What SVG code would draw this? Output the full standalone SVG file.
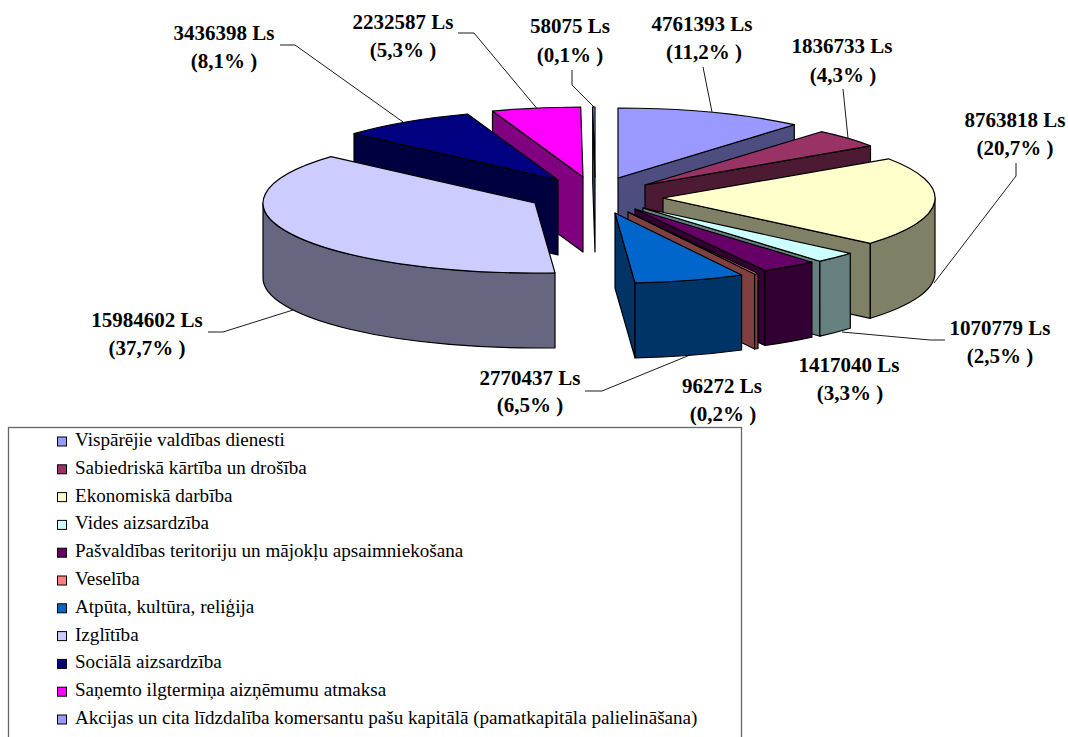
<svg xmlns="http://www.w3.org/2000/svg" width="1068" height="737" viewBox="0 0 1068 737">
<style>
.s{stroke:#000;stroke-width:1.2;stroke-linejoin:round}
.lead{fill:none;stroke:#000;stroke-width:0.9}
.lbl{font-family:'Liberation Serif','Times New Roman','DejaVu Serif',serif;font-weight:bold;font-size:21px;text-anchor:middle;fill:#000}
.lg{font-family:'Liberation Serif','Times New Roman','DejaVu Serif',serif;font-size:19.1px;fill:#000}
.sw{stroke:#000;stroke-width:1}
</style>
<rect width="1068" height="737" fill="#fff"/>

<g id="slice-akcijas">
<path class="s" fill="#4D4D80" d="M595,177 L592.7,107 L592.7,182 L595,252 Z"/>
<path class="s" fill="#9999FF" d="M595,177 L592.7,107 L595,107 Z"/>
</g>
<g id="slice-sanemto">
<path class="s" fill="#800080" d="M583,177 L492.5,111 L492.5,186 L583,252 Z"/>
<path class="s" fill="#FF00FF" d="M583,177 L492.5,111 A272,70 0 0 1 580.7,107 Z"/>
</g>
<g id="slice-sociala">
<path class="s" fill="#000040" d="M558,180 L354,133.7 L354,208.7 L558,255 Z"/>
<path class="s" fill="#000080" d="M558,180 L354,133.7 A272,70 0 0 1 467.5,114 Z"/>
</g>
<g id="slice-izglitiba">
<path class="s" fill="#666680" d="M555,272.8 A272,70 0 0 1 263,203 L263,278 A272,70 0 0 0 555,347.8 Z"/>
<path class="s" fill="#CCCCFF" d="M535,203 L555,272.8 A272,70 0 0 1 331,156.7 Z"/>
</g>
<g id="slice-visparejie">
<path class="s" fill="#4D4D80" d="M618,178 L794.3,124.7 L794.3,199.7 L618,253 Z"/>
<path class="s" fill="#9999FF" d="M618,178 L618,108 A272,70 0 0 1 794.3,124.7 Z"/>
</g>
<g id="slice-sabiedriska">
<path class="s" fill="#4D1A33" d="M645,185 L870.5,145.8 L870.5,220.8 L645,260 Z"/>
<path class="s" fill="#993366" d="M645,185 L821.3,131.7 A272,70 0 0 1 870.5,145.8 Z"/>
</g>
<g id="slice-ekonomiska">
<path class="s" fill="#808066" d="M663,198 L870.3,243.3 L870.3,318.3 L663,273 Z"/>
<path class="s" fill="#808066" d="M935,198 A272,70 0 0 1 870.3,243.3 L870.3,318.3 A272,70 0 0 0 935,273 Z"/>
<path class="s" fill="#FFFFCC" d="M663,198 L888.5,158.8 A272,70 0 0 1 870.3,243.3 Z"/>
</g>
<g id="slice-vides">
<path class="s" fill="#668080" d="M643,208 L819.9,261.2 L819.9,336.2 L643,283 Z"/>
<path class="s" fill="#668080" d="M850.3,253.3 A272,70 0 0 1 819.9,261.2 L819.9,336.2 A272,70 0 0 0 850.3,328.3 Z"/>
<path class="s" fill="#CCFFFF" d="M643,208 L850.3,253.3 A272,70 0 0 1 819.9,261.2 Z"/>
</g>
<g id="slice-pasvaldibas">
<path class="s" fill="#330033" d="M635,209 L765,270.5 L765,345.5 L635,284 Z"/>
<path class="s" fill="#330033" d="M811.9,262.2 A272,70 0 0 1 765,270.5 L765,345.5 A272,70 0 0 0 811.9,337.2 Z"/>
<path class="s" fill="#660066" d="M635,209 L811.9,262.2 A272,70 0 0 1 765,270.5 Z"/>
</g>
<g id="slice-veseliba">
<path class="s" fill="#804040" d="M628,212 L754.6,274 L754.6,349 L628,287 Z"/>
<path class="s" fill="#804040" d="M758,273.5 L754.6,274 L754.6,349 L758,348.5 Z"/>
<path class="s" fill="#FF8080" d="M628,212 L758,273.5 L754.6,274 Z"/>
</g>
<g id="slice-atputa">
<path class="s" fill="#003366" d="M615,213 L635,282.8 L635,357.8 L615,288 Z"/>
<path class="s" fill="#003366" d="M741.6,275 A272,70 0 0 1 635,282.8 L635,357.8 A272,70 0 0 0 741.6,350 Z"/>
<path class="s" fill="#0066CC" d="M615,213 L741.6,275 A272,70 0 0 1 635,282.8 Z"/>
</g>

<g id="connectors">
<path class="lead" d="M280,45 L295,45 L403,122"/>
<path class="lead" d="M458,33 L474,33 L537,108.5"/>
<path class="lead" d="M572,70 L572,85 L594,107"/>
<path class="lead" d="M703,67 L712,112"/>
<path class="lead" d="M843,89 L848,138"/>
<path class="lead" d="M1016,163 L1016,176 L934,283"/>
<path class="lead" d="M945,340 L930,340 L842,332"/>
<path class="lead" d="M585,391 L602,391 L690,355"/>
<path class="lead" d="M208,332 L223,332 L293,310"/>
</g>

<g id="labels">
<g id="label-sociala"><text class="lbl" x="224" y="40">3436398 Ls</text><text class="lbl" x="224" y="68">(8,1% )</text></g>
<g id="label-sanemto"><text class="lbl" x="403" y="29">2232587 Ls</text><text class="lbl" x="403" y="57">(5,3% )</text></g>
<g id="label-akcijas"><text class="lbl" x="570" y="33">58075 Ls</text><text class="lbl" x="570" y="62">(0,1% )</text></g>
<g id="label-visparejie"><text class="lbl" x="702" y="31">4761393 Ls</text><text class="lbl" x="704" y="59">(11,2% )</text></g>
<g id="label-sabiedriska"><text class="lbl" x="842" y="53">1836733 Ls</text><text class="lbl" x="843" y="82">(4,3% )</text></g>
<g id="label-ekonomiska"><text class="lbl" x="1015" y="127">8763818 Ls</text><text class="lbl" x="1015" y="155">(20,7% )</text></g>
<g id="label-vides"><text class="lbl" x="1000" y="335">1070779 Ls</text><text class="lbl" x="1000" y="363">(2,5% )</text></g>
<g id="label-pasvaldibas"><text class="lbl" x="849" y="372">1417040 Ls</text><text class="lbl" x="850" y="400">(3,3% )</text></g>
<g id="label-veseliba"><text class="lbl" x="722" y="393">96272 Ls</text><text class="lbl" x="723" y="421">(0,2% )</text></g>
<g id="label-atputa"><text class="lbl" x="530" y="385">2770437 Ls</text><text class="lbl" x="530" y="412">(6,5% )</text></g>
<g id="label-izglitiba"><text class="lbl" x="147" y="327">15984602 Ls</text><text class="lbl" x="147" y="355">(37,7% )</text></g>
</g>

<g id="legend">
<rect x="8.5" y="427.5" width="733" height="330" fill="none" stroke="#666" stroke-width="1.3"/>
<rect class="sw" x="57.5" y="437" width="9" height="9" fill="#9999FF"/><text class="lg" x="75" y="446">Vispārējie valdības dienesti</text>
<rect class="sw" x="57.5" y="464.8" width="9" height="9" fill="#993366"/><text class="lg" x="75" y="473.8">Sabiedriskā kārtība un drošība</text>
<rect class="sw" x="57.5" y="492.6" width="9" height="9" fill="#FFFFCC"/><text class="lg" x="75" y="501.6">Ekonomiskā darbība</text>
<rect class="sw" x="57.5" y="520.4" width="9" height="9" fill="#CCFFFF"/><text class="lg" x="75" y="529.4">Vides aizsardzība</text>
<rect class="sw" x="57.5" y="548.2" width="9" height="9" fill="#660066"/><text class="lg" x="75" y="557.2">Pašvaldības teritoriju un mājokļu apsaimniekošana</text>
<rect class="sw" x="57.5" y="576" width="9" height="9" fill="#FF8080"/><text class="lg" x="75" y="585">Veselība</text>
<rect class="sw" x="57.5" y="603.8" width="9" height="9" fill="#0066CC"/><text class="lg" x="75" y="612.8">Atpūta, kultūra, reliģija</text>
<rect class="sw" x="57.5" y="631.6" width="9" height="9" fill="#CCCCFF"/><text class="lg" x="75" y="640.6">Izglītība</text>
<rect class="sw" x="57.5" y="659.4" width="9" height="9" fill="#000080"/><text class="lg" x="75" y="668.4">Sociālā aizsardzība</text>
<rect class="sw" x="57.5" y="687.2" width="9" height="9" fill="#FF00FF"/><text class="lg" x="75" y="696.2">Saņemto ilgtermiņa aizņēmumu atmaksa</text>
<rect class="sw" x="57.5" y="715" width="9" height="9" fill="#9999FF"/><text class="lg" x="75" y="724">Akcijas un cita līdzdalība komersantu pašu kapitālā (pamatkapitāla palielināšana)</text>
</g>
</svg>
